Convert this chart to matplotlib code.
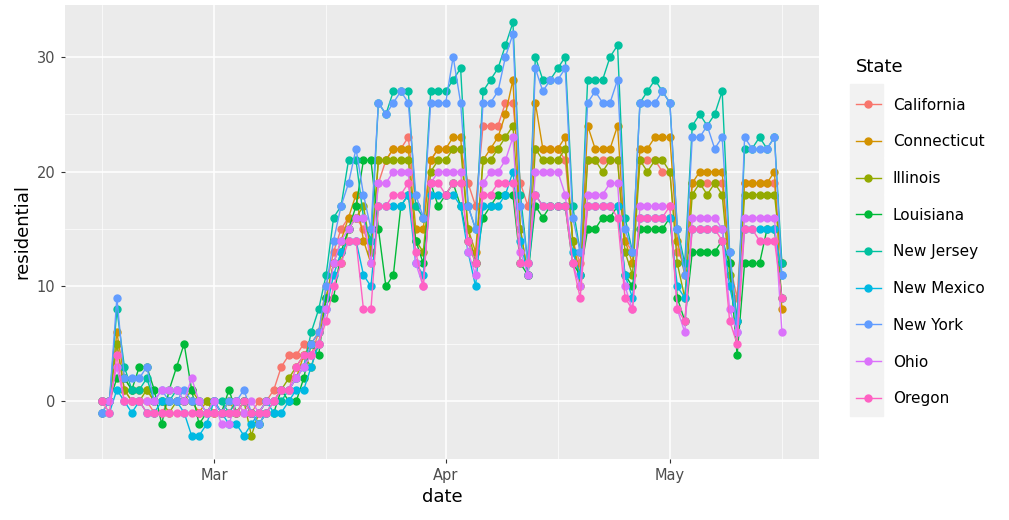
import numpy as np
import pandas as pd
import matplotlib.pyplot as plt
import matplotlib.dates as mdates
from matplotlib.lines import Line2D

dates = pd.date_range("2020-02-15", "2020-05-16", freq="D")

states = ["California", "Connecticut", "Illinois", "Louisiana", "New Jersey",
          "New Mexico", "New York", "Ohio", "Oregon"]
colors = ["#F8766D", "#D39200", "#93AA00", "#00BA38", "#00C19F",
          "#00B9E3", "#619CFF", "#DB72FB", "#FF61C3"]

california = [0,0,5,1,0,0,0, -1,-1,0,0,0,0,-1, -1,-1,-1,-1,0,-1,-1, 0,0,1,3,4,4,5,
              4,6,10,13,15,16,16, 15,13,19,21,22,22,23, 17,16,21,22,22,22,22,
              19,17,24,24,24,26,26, 19,17,22,22,22,22,21, 14,12,21,21,21,21,21,
              14,13,21,21,21,20,20, 13,12,19,19,19,19,19, 12,9,19,19,19,19,19, 12]
connecticut = [-1,0,6,2,1,1,1, 0,0,0,0,0,0,-1, 0,0,-1,0,-1,0,-1, -1,0,0,1,1,2,4,
               5,6,9,12,14,16,18, 14,12,21,21,22,22,22, 15,15,21,22,22,23,23,
               15,13,21,22,23,25,28, 15,11,26,22,22,22,23, 14,11,24,22,22,22,24,
               14,12,22,22,23,23,23, 14,11,19,20,20,20,20, 12,7,19,19,19,19,20, 8]
illinois = [0,0,5,1,0,0,1, 0,0,-1,0,0,1,0, 0,-1,-1,0,0,0,-3, -1,0,0,1,2,3,4,
            3,5,9,12,12,15,16, 17,13,21,21,21,21,21, 14,13,20,21,21,22,22,
            15,12,21,21,22,23,24, 15,11,22,21,21,21,22, 14,10,21,21,20,21,21,
            13,11,21,20,21,21,20, 12,9,18,19,18,19,18, 11,7,18,18,18,18,18, 12]
louisiana = [0,0,2,2,1,3,3, 1,-2,1,3,5,1,-2, -1,0,-1,1,-1,0,-1, -2,-1,-1,1,0,0,2,
             5,4,9,9,13,15,17, 21,21,15,10,11,17,18, 14,12,19,17,18,19,17,
             14,12,16,17,18,18,18, 12,11,17,16,17,17,17, 12,11,15,15,16,16,17,
             11,10,15,15,15,15,16, 9,7,13,13,13,13,14, 12,4,12,12,12,15,15, 9]
new_jersey = [0,0,8,3,1,1,2, 0,0,0,1,0,0,0, -1,0,0,-1,0,0,-1, -2,-1,0,0,1,2,3,
              6,8,11,16,17,21,21, 16,14,26,25,27,27,27, 17,16,27,27,27,28,29,
              17,15,27,28,29,31,33, 18,12,30,28,28,29,30, 17,13,28,28,28,30,31,
              16,13,26,27,28,27,26, 15,12,24,25,24,25,27, 13,7,22,22,23,22,23, 12]
new_mexico = [-1,-1,1,0,-1,0,-1, -1,0,0,0,-1,-3,-3, -2,0,-1,-2,-2,-3,-2, -1,0,-1,-1,0,1,1,
              3,5,8,11,13,14,14, 11,10,17,17,17,17,18, 12,11,18,18,18,18,17,
              13,10,17,17,17,18,20, 14,11,18,17,17,17,17, 13,11,17,17,17,17,17,
              11,9,16,16,16,16,16, 10,9,15,15,15,15,15, 10,7,15,15,15,15,15, 11]
new_york = [-1,0,9,2,2,2,3, 0,1,0,0,1,0,0, -1,0,-1,0,0,1,-1, -2,-1,0,1,1,2,3,
            5,6,10,14,17,19,22, 18,15,26,25,26,27,26, 18,16,26,26,26,30,26,
            17,15,26,26,27,30,32, 17,12,29,27,28,28,29, 16,13,26,27,26,26,28,
            15,13,26,26,26,27,26, 15,11,23,23,24,22,23, 13,6,23,22,22,22,23, 11]
ohio = [0,0,3,0,0,0,0, 0,1,1,1,0,2,0, -1,0,-2,-2,0,-1,0, -1,0,0,1,1,2,3,
        4,5,8,12,14,15,16, 16,12,19,19,20,20,20, 12,10,19,20,20,20,20,
        13,11,19,20,20,21,23, 13,11,20,20,20,20,18, 12,10,18,18,18,19,19,
        10,8,17,17,17,17,17, 8,6,16,16,16,16,15, 8,6,16,16,16,16,16, 6]
oregon = [0,-1,4,0,0,0,-1, -1,-1,-1,-1,-1,-1,-1, -1,-1,-1,-1,-1,0,-1, -1,-1,0,1,1,3,4,
          4,5,7,10,12,14,14, 8,8,17,17,18,18,19, 13,10,19,19,18,19,19,
          14,12,18,18,19,19,19, 12,12,18,17,17,17,17, 12,9,17,17,17,17,16,
          9,8,16,16,16,16,17, 8,7,15,15,15,15,14, 7,5,15,15,14,14,14, 9]

series = [california, connecticut, illinois, louisiana, new_jersey,
          new_mexico, new_york, ohio, oregon]

fig = plt.figure(figsize=(10.09, 5.2), dpi=100)
ax = fig.add_axes([0.064, 0.118, 0.748, 0.872])
ax.set_facecolor("#EBEBEB")

for vals, c in zip(series, colors):
    ax.plot(dates, vals, color=c, lw=1, marker="o", ms=5, zorder=3)

ax.set_xlim(pd.Timestamp("2020-02-10"), pd.Timestamp("2020-05-21"))
ax.set_ylim(-5, 34.5)
ax.set_yticks([0, 10, 20, 30])
ax.set_yticks([-5, 5, 15, 25], minor=True)
ax.set_xticks(pd.to_datetime(["2020-03-01", "2020-04-01", "2020-05-01"]))
ax.set_xticks(pd.to_datetime(["2020-02-15", "2020-03-16", "2020-04-16", "2020-05-16"]), minor=True)
ax.xaxis.set_major_formatter(mdates.DateFormatter("%b"))
ax.grid(which="major", color="white", lw=1.1)
ax.grid(which="minor", color="white", lw=0.5)
ax.set_axisbelow(True)
for s in ax.spines.values():
    s.set_visible(False)
ax.tick_params(which="both", length=3, color="#333333", labelsize=10.5, labelcolor="#4D4D4D")
ax.tick_params(which="minor", length=0)
ax.set_xlabel("date", fontsize=13)
ax.set_ylabel("residential", fontsize=13)

# grey key boxes like ggplot
step = 0.0712
for i in range(len(states)):
    y = 0.804 - i * step
    fig.patches.append(plt.Rectangle((0.842, y - 0.034), 0.033, 0.068,
                                     transform=fig.transFigure, color="#F2F2F2",
                                     zorder=0))

handles = [Line2D([], [], color=c, lw=1, marker="o", ms=5) for c in colors]
leg = fig.legend(handles, states, title="State", loc="upper left",
                 bbox_to_anchor=(0.835, 0.915), frameon=False, fontsize=11,
                 title_fontsize=13, handlelength=1.6, labelspacing=1.42)
leg._legend_box.align = "left"

fig.savefig("out.png", dpi=100)
